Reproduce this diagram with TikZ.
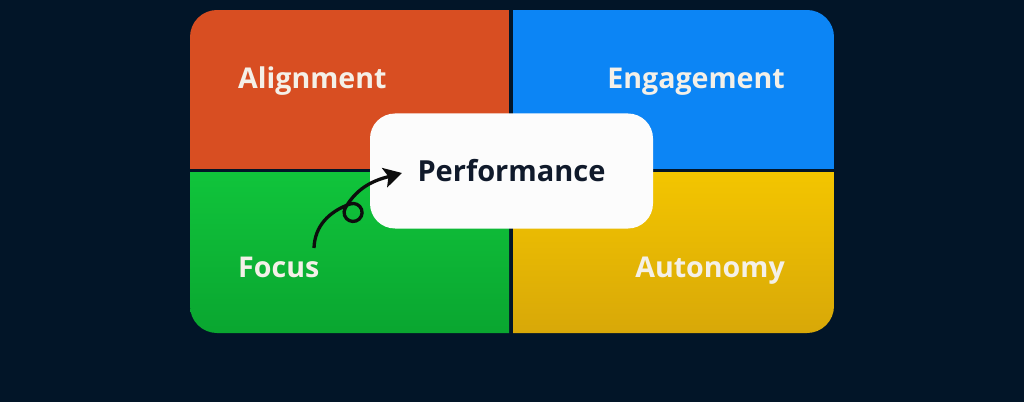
\documentclass[tikz,border=0pt]{standalone}
\usepackage{fontspec}
\setmainfont{Open Sans}
\usetikzlibrary{arrows.meta}

\definecolor{bgnavy}{HTML}{021528}
\definecolor{alignorange}{HTML}{D84E22}
\definecolor{engageblue}{HTML}{0C85F5}
\definecolor{focusgreen}{HTML}{10C43B}
\definecolor{focusgreendark}{HTML}{0AA630}
\definecolor{autoyellow}{HTML}{F3C500}
\definecolor{autoyellowdark}{HTML}{D8A808}
\definecolor{quadwhite}{HTML}{F4F0E8}
\definecolor{perfink}{HTML}{101A2B}

\begin{document}
\begin{tikzpicture}[x=1pt,y=1pt]
  \tikzstyle{quadtext}=[text=quadwhite, font=\bfseries\fontsize{28.6}{34}\selectfont, inner sep=0pt]
  \tikzstyle{perfbox}=[fill=white!99!black, rounded corners=25pt, minimum width=283pt, minimum height=115pt,
    text=perfink, font=\bfseries\fontsize{29}{34}\selectfont]
  \tikzstyle{curl}=[line width=3.3pt, black!95]

  \fill[bgnavy] (0,0) rectangle (1024,402);
  \useasboundingbox (0,0) rectangle (1024,402);

  % the four quarters
  \begin{scope}
    \clip[rounded corners=27pt] (190,69) rectangle (834,392);
    \fill[alignorange] (190,233) rectangle (509,392);
    \fill[engageblue] (513,233) rectangle (834,392);
    \shade[top color=focusgreen, bottom color=focusgreendark] (190,69) rectangle (509,229);
    \shade[top color=autoyellow, bottom color=autoyellowdark] (513,69) rectangle (834,229);
  \end{scope}

  \node[quadtext, anchor=base west] (align) at (238,313) {Alignment};
  \node[quadtext, anchor=base east] (engage) at (785,313) {Engagement};
  \node[quadtext, anchor=base west] (focus) at (238,125) {Focus};
  \node[quadtext, anchor=base east] (auto) at (785,125) {Autonomy};

  \node[perfbox] (perf) at (511.5,231) {Performance};

  % looped arrow
  \coordinate (curlstart) at (314,154);
  \coordinate (curlend) at (402,229);
  \draw[curl, -{Stealth[length=18pt, width=20pt, inset=4pt]}] (curlstart) to[out=88,in=200] (350,198)
    arc[start angle=110, end angle=-210, radius=9] to[out=60,in=195] (curlend);
\end{tikzpicture}
\end{document}
